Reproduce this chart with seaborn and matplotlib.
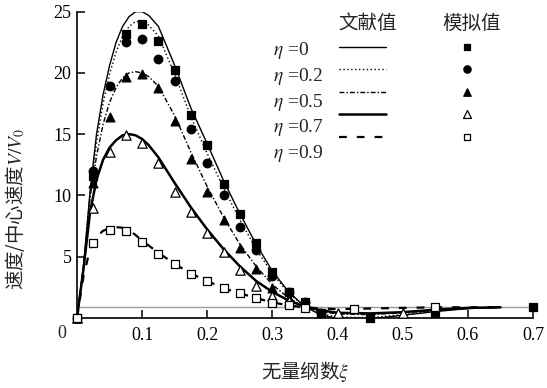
import matplotlib
matplotlib.use("Agg")
import matplotlib.pyplot as plt
from matplotlib.lines import Line2D
from matplotlib.font_manager import FontProperties
import seaborn as sns

# Literature curves
xi_lit = [0.0, 0.01, 0.02, 0.03, 0.04, 0.05, 0.06, 0.07, 0.08, 0.09, 0.1, 0.11,
          0.125, 0.15, 0.175, 0.2, 0.225, 0.25, 0.275, 0.3, 0.325, 0.35, 0.375,
          0.4, 0.45, 0.5, 0.55, 0.6, 0.65]
lit_eta0 = [0, 4.2, 10.3, 15.0, 18.2, 20.6, 22.5, 23.8, 24.6, 25.0, 25.0, 24.7,
            23.8, 20.6, 17.1, 14.2, 11.2, 8.5, 6.0, 3.8, 2.1, 0.9, 0.2,
            -0.05, -0.1, 0.2, 0.5, 0.75, 0.85]
lit_eta02 = [0, 4.2, 10.0, 14.3, 17.5, 19.9, 21.7, 23.0, 23.8, 24.2, 24.2, 23.9,
             23.0, 19.9, 16.4, 13.4, 10.6, 8.0, 5.6, 3.6, 2.0, 0.9, 0.3,
             0.05, 0.0, 0.25, 0.55, 0.75, 0.85]
lit_eta05 = [0, 4.2, 9.8, 13.2, 15.8, 17.6, 18.8, 19.6, 20.0, 20.1, 20.0, 19.7,
             18.9, 16.5, 13.5, 10.7, 8.2, 6.0, 4.2, 2.7, 1.6, 0.9, 0.5,
             0.3, 0.25, 0.4, 0.6, 0.75, 0.85]
lit_eta07 = [0, 4.0, 8.6, 11.3, 12.9, 13.9, 14.5, 14.9, 15.0, 14.9, 14.6, 14.1,
             13.1, 11.0, 9.0, 7.2, 5.6, 4.2, 3.0, 2.1, 1.4, 0.9, 0.6,
             0.4, 0.35, 0.45, 0.65, 0.8, 0.85]
lit_eta09 = [0, 3.4, 5.6, 6.6, 7.1, 7.3, 7.4, 7.35, 7.15, 6.75, 6.3, 5.9,
             5.3, 4.4, 3.6, 3.0, 2.4, 2.0, 1.6, 1.25, 1.0, 0.85, 0.75,
             0.7, 0.75, 0.8, 0.85, 0.85, 0.85]

# Simulated values
xi_sim0 = [0, 0.025, 0.075, 0.1, 0.125, 0.15, 0.175, 0.2, 0.225, 0.25, 0.275,
           0.3, 0.325, 0.35, 0.375, 0.45, 0.55, 0.7]
sim0 = [0, 11.6, 23.2, 24.0, 22.6, 20.2, 16.6, 14.1, 10.9, 8.5, 6.1,
        3.7, 2.1, 1.3, 0.4, 0.0, 0.4, 0.9]
xi_sim02 = [0, 0.025, 0.05, 0.075, 0.1, 0.125, 0.15, 0.175, 0.2, 0.225, 0.25,
            0.275, 0.3, 0.325, 0.35, 0.375]
sim02 = [0, 12.0, 18.9, 22.5, 22.8, 21.1, 19.3, 15.4, 12.6, 10.0, 7.4,
         5.5, 3.4, 2.1, 1.3, 0.4]
xi_sim05 = [0, 0.025, 0.05, 0.075, 0.1, 0.125, 0.15, 0.175, 0.2, 0.225, 0.25,
            0.275, 0.3, 0.325]
sim05 = [0, 11.0, 16.4, 19.7, 19.9, 18.8, 16.1, 13.0, 10.3, 8.0, 5.7,
         4.0, 2.4, 1.6]
xi_sim07 = [0, 0.025, 0.05, 0.075, 0.1, 0.125, 0.15, 0.175, 0.2, 0.225, 0.25,
            0.275, 0.3, 0.325, 0.4, 0.5]
sim07 = [0, 9.0, 13.5, 14.9, 14.3, 12.6, 10.3, 8.6, 6.9, 5.4, 3.9,
         2.6, 1.8, 1.4, 0.4, 0.4]
xi_sim09 = [0, 0.025, 0.05, 0.075, 0.1, 0.125, 0.15, 0.175, 0.2, 0.225, 0.25,
            0.275, 0.3, 0.325, 0.35, 0.425, 0.55]
sim09 = [0, 6.1, 7.2, 7.1, 6.2, 5.2, 4.4, 3.6, 3.0, 2.4, 2.0,
         1.6, 1.2, 1.0, 0.8, 0.7, 0.9]

eta_labels = [r"$\eta$ =0", r"$\eta$ =0.2", r"$\eta$ =0.5", r"$\eta$ =0.7", r"$\eta$ =0.9"]
ref_level = 0.85
x_ticks = [0.1, 0.2, 0.3, 0.4, 0.5, 0.6, 0.7]
y_ticks = [5, 10, 15, 20, 25]

sns.set_theme(style="ticks")
plt.rcParams["font.family"] = ["Liberation Serif", "Noto Sans CJK SC", "DejaVu Sans"]
plt.rcParams["mathtext.fontset"] = "stix"

fig = plt.figure(figsize=(5.47, 3.88), dpi=100)
ax = fig.add_axes([77 / 547, 1 - 317.7 / 388, 456 / 547, 306 / 388])

ax.axhline(ref_level, color="0.6", lw=1.0, zorder=1)

line_styles = [
    dict(lw=1.0, dashes=None),
    dict(lw=1.0, dashes=(1, 1.8)),
    dict(lw=1.0, dashes=(3.5, 1.5, 1, 1.5)),
    dict(lw=1.8, dashes=None),
    dict(lw=1.6, dashes=(3.5, 4.5)),
]
lit_series = [lit_eta0, lit_eta02, lit_eta05, lit_eta07, lit_eta09]
lit_handles = []
for vals, st in zip(lit_series, line_styles):
    sns.lineplot(x=xi_lit, y=vals, ax=ax, color="black", linewidth=st["lw"],
                 estimator=None, sort=False, zorder=2)
    ln = ax.get_lines()[-1]
    if st["dashes"] is not None:
        ln.set_dashes(st["dashes"])
    lit_handles.append(ln)

sim_series = [(xi_sim0, sim0, "s", "black", 30),
              (xi_sim02, sim02, "o", "black", 38),
              (xi_sim05, sim05, "^", "black", 40),
              (xi_sim07, sim07, "^", "white", 45),
              (xi_sim09, sim09, "s", "white", 32)]
sim_handles = []
for xs, ys, mk, fc, size in sim_series:
    sns.scatterplot(x=xs, y=ys, ax=ax, marker=mk, s=size, color=fc,
                    edgecolor="black", linewidth=0.9, zorder=4, clip_on=False)
    sim_handles.append(ax.collections[-1])

ax.set_xlim(0, 0.7)
ax.set_ylim(0, 25)
ax.set_xticks(x_ticks)
ax.set_xticklabels([f"{v:.1f}" for v in x_ticks])
ax.set_yticks(y_ticks)
ax.set_xlabel("")
ax.set_ylabel("")
for side in ["top", "right"]:
    ax.spines[side].set_visible(False)
for side in ["left", "bottom"]:
    ax.spines[side].set_linewidth(1.2)
    ax.spines[side].set_color("black")
ax.tick_params(axis="both", direction="in", length=6, width=1.1, colors="black",
               labelsize=13)
ax.tick_params(axis="x", pad=7)
ax.tick_params(axis="y", pad=4)

cjk_family = ["Noto Sans CJK SC", "DejaVu Sans"]
lab_font = FontProperties(family="Liberation Serif", size=14)
common = dict(frameon=False, borderpad=0, borderaxespad=0, labelspacing=0.25,
              prop=lab_font)
legend_top = 0.908

leg_a = ax.legend(handles=[Line2D([], [], ls="none") for _ in eta_labels],
                  labels=eta_labels, loc="upper left", bbox_to_anchor=(0.43, legend_top),
                  handlelength=0, handletextpad=0, **common)
ax.add_artist(leg_a)
leg_b = ax.legend(handles=lit_handles, labels=[""] * 5, loc="upper center",
                  bbox_to_anchor=(0.626, legend_top), handlelength=2.4, handletextpad=0,
                  **common)
ax.add_artist(leg_b)
leg_c = ax.legend(handles=sim_handles, labels=[""] * 5, loc="upper center",
                  bbox_to_anchor=(0.855, legend_top), handlelength=1.0, handletextpad=0,
                  scatterpoints=1, scatteryoffsets=[0.5], markerscale=0.85, **common)

ax.text(0.638, 0.96, "文献值", transform=ax.transAxes, ha="center", va="center",
        fontsize=14, family=cjk_family)
ax.text(0.866, 0.96, "模拟值", transform=ax.transAxes, ha="center", va="center",
        fontsize=14, family=cjk_family)

fig.text(62 / 547, 1 - 334 / 388, "0", ha="center", va="center", fontsize=13)
fig.text(305 / 547, 1 - 372 / 388, r"无量纲数$\xi$", ha="center", va="center",
         fontsize=14, family=cjk_family)
fig.text(15 / 547, 1 - 209 / 388, r"速度/中心速度$V/V_0$", ha="center", va="center",
         rotation=90, fontsize=14, family=cjk_family)

fig.savefig("out.png", dpi=100)
